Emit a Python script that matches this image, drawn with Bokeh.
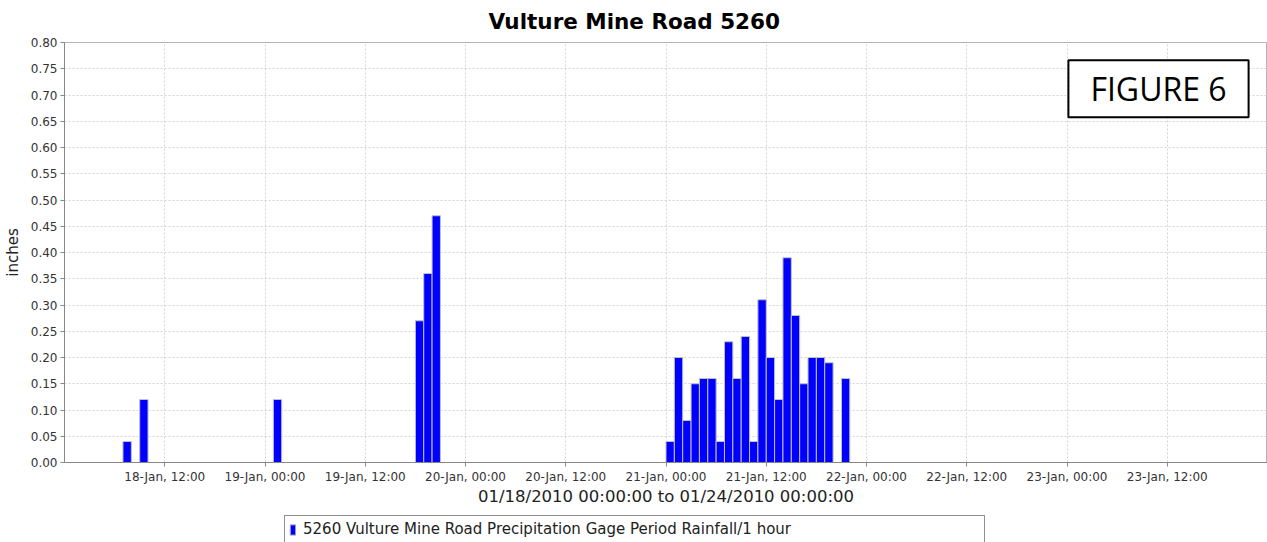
import pandas as pd
from bokeh.plotting import figure
from bokeh.layouts import column
from bokeh.models import (ColumnDataSource, Range1d, FixedTicker, SingleIntervalTicker,
                          DatetimeTickFormatter, NumeralTickFormatter, Legend, LegendItem, Label)
from bokeh.embed import file_html
from bokeh.resources import INLINE

# ---------------- data ----------------
title_text = "Vulture Mine Road 5260"
series_name = "5260 Vulture Mine Road Precipitation Gage Period Rainfall/1 hour"
y_label = "inches"
x_label = "01/18/2010 00:00:00 to 01/24/2010 00:00:00"
figure_tag = "FIGURE 6"
period_start = "2010-01-18 00:00"
period_end = "2010-01-24 00:00"

hour_starts = [
    "2010-01-18 07:00", "2010-01-18 09:00",
    "2010-01-19 01:00",
    "2010-01-19 18:00", "2010-01-19 19:00", "2010-01-19 20:00",
    "2010-01-21 00:00", "2010-01-21 01:00", "2010-01-21 02:00", "2010-01-21 03:00",
    "2010-01-21 04:00", "2010-01-21 05:00", "2010-01-21 06:00", "2010-01-21 07:00",
    "2010-01-21 08:00", "2010-01-21 09:00", "2010-01-21 10:00", "2010-01-21 11:00",
    "2010-01-21 12:00", "2010-01-21 13:00", "2010-01-21 14:00", "2010-01-21 15:00",
    "2010-01-21 16:00", "2010-01-21 17:00", "2010-01-21 18:00", "2010-01-21 19:00",
    "2010-01-21 21:00",
]
rainfall = [
    0.04, 0.12,
    0.12,
    0.27, 0.36, 0.47,
    0.04, 0.20, 0.08, 0.15,
    0.16, 0.16, 0.04, 0.23,
    0.16, 0.24, 0.04, 0.31,
    0.20, 0.12, 0.39, 0.28,
    0.15, 0.20, 0.20, 0.19,
    0.16,
]
x_tick_times = [
    "2010-01-18 12:00", "2010-01-19 00:00", "2010-01-19 12:00", "2010-01-20 00:00",
    "2010-01-20 12:00", "2010-01-21 00:00", "2010-01-21 12:00", "2010-01-22 00:00",
    "2010-01-22 12:00", "2010-01-23 00:00", "2010-01-23 12:00",
]
y_max = 0.80
y_step = 0.05

BAR_FILL = "#0000ff"
BAR_LINE = "#c0c0c0"

# ---------------- build ----------------
def ms(ts):
    return pd.Timestamp(ts).value // 10**6

starts = pd.to_datetime(hour_starts)
src = ColumnDataSource(dict(left=starts, right=starts + pd.Timedelta(hours=1), top=rainfall))

p = figure(width=1267, height=515, x_axis_type="datetime",
           x_range=Range1d(ms(period_start), ms(period_end)),
           y_range=Range1d(0, y_max),
           output_backend="svg", toolbar_location=None,
           min_border_left=64, min_border_right=0, min_border_top=42, min_border_bottom=53)
p.background_fill_color = "white"
p.border_fill_color = "white"
p.outline_line_color = "#b4b4b4"

p.title.text = title_text
p.title.align = "left"
p.title.offset = 424
p.title.vertical_align = "top"
p.title.text_font = "DejaVu Sans"
p.title.text_font_style = "bold"
p.title.text_font_size = "21.5px"
p.title.text_color = "#000000"
p.title.standoff = 14

bars = p.quad(left="left", right="right", top="top", bottom=0, source=src,
              fill_color=BAR_FILL, line_color=BAR_LINE, line_width=1)

xt = FixedTicker(ticks=[ms(t) for t in x_tick_times])
p.xaxis.ticker = xt
p.xgrid.ticker = xt
p.xaxis.formatter = DatetimeTickFormatter(
    hours="%d-%b, %H:%M", hourmin="%d-%b, %H:%M", days="%d-%b, %H:%M",
    minutes="%d-%b, %H:%M", minsec="%d-%b, %H:%M", months="%d-%b, %H:%M")
yt = SingleIntervalTicker(interval=y_step)
p.yaxis.ticker = yt
p.ygrid.ticker = yt
p.yaxis.formatter = NumeralTickFormatter(format="0.00")

for ax in (p.xaxis[0], p.yaxis[0]):
    ax.axis_line_color = "#888888"
    ax.major_tick_line_color = "#888888"
    ax.major_tick_out = 4
    ax.major_tick_in = 0
    ax.minor_tick_out = 0
    ax.minor_tick_in = 0
    ax.major_label_text_font = "DejaVu Sans"
    ax.major_label_text_font_size = "12px"
    ax.major_label_text_color = "#333333"
    ax.axis_label_text_font = "DejaVu Sans"
    ax.axis_label_text_font_style = "normal"
    ax.axis_label_text_color = "#222222"

p.xaxis.axis_label = x_label
p.xaxis.axis_label_text_font_size = "16.5px"
p.xaxis.major_label_standoff = 3
p.xaxis.axis_label_standoff = 0
p.yaxis.axis_label = y_label
p.yaxis.axis_label_text_font_size = "15px"
p.yaxis.major_label_standoff = 3
p.yaxis.axis_label_standoff = 6

for g in (p.xgrid[0], p.ygrid[0]):
    g.grid_line_color = "#d4d4d4"
    g.grid_line_dash = "2 2"
    g.grid_line_width = 1

# FIGURE 6 box
p.add_layout(Label(x=1094, y=373.7, x_units="screen", y_units="screen",
                   text=figure_tag, text_align="center", text_baseline="middle",
                   text_font="Open Sans", text_font_size="32px", text_color="#000000",
                   background_fill_color="white", border_line_color="black",
                   border_line_width=2, padding=(22, 7)))

# ---------------- legend strip below the chart ----------------
leg = figure(width=1267, height=27, x_range=Range1d(1, 2), y_range=Range1d(1, 2),
             output_backend="svg", toolbar_location=None,
             x_axis_location=None, y_axis_location=None,
             min_border_left=0, min_border_right=0, min_border_top=0, min_border_bottom=0)
leg.title.visible = False
leg.outline_line_color = None
leg.xgrid.visible = False
leg.ygrid.visible = False
leg.background_fill_color = "white"
leg.border_fill_color = "white"
# legend swatch only (zero-size, outside the strip's ranges)
swatch = leg.quad(left=[0], right=[0], top=[0], bottom=[0],
                  fill_color=BAR_FILL, line_color=BAR_LINE, line_width=1)

legend = Legend(items=[LegendItem(label=series_name, renderers=[swatch])],
                location=(220, -1), orientation="vertical",
                padding=4, spacing=0, margin=0,
                glyph_width=7, glyph_height=13, label_standoff=7,
                label_width=677, label_height=11,
                label_text_font="DejaVu Sans", label_text_font_size="15px",
                label_text_color="#222222",
                border_line_color="#222222", border_line_width=1,
                background_fill_color="white", background_fill_alpha=1.0)
leg.add_layout(legend, "center")

layout = column(p, leg, spacing=0)
open("out.html", "w").write(file_html(layout, INLINE))
